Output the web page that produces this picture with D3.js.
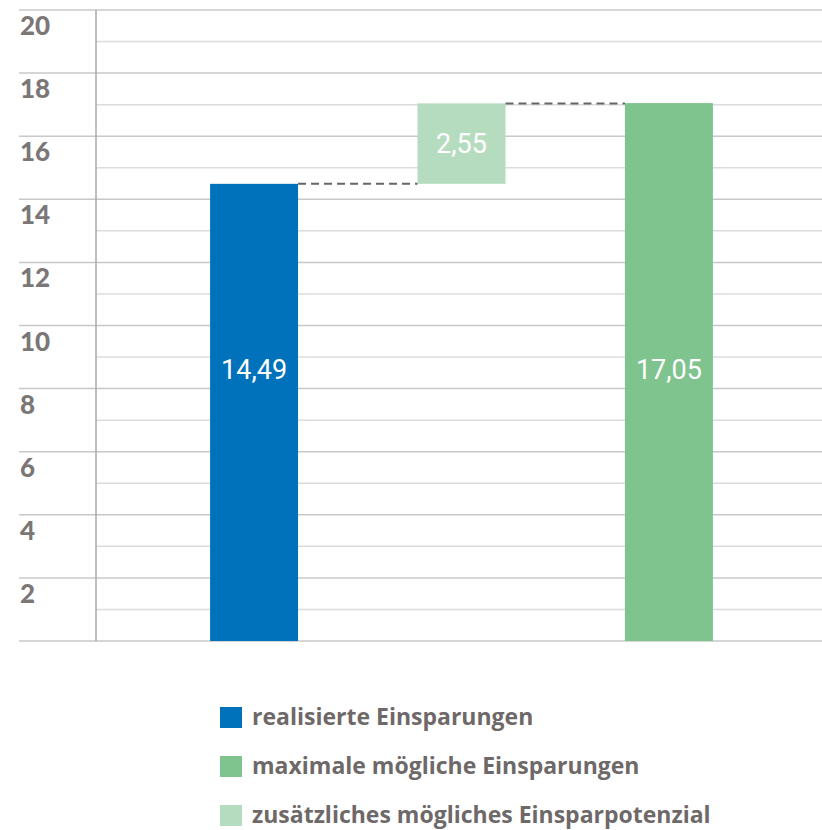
<!DOCTYPE html>
<html><head><meta charset="utf-8">
<script src="https://cdn.jsdelivr.net/npm/d3@7"></script>
<style>html,body{margin:0;padding:0;background:#fff;}svg{display:block;}</style>
</head><body>
<svg id="c" width="822" height="830"></svg>
<script>
const categories = ["realisierte Einsparungen", "zusätzliches mögliches Einsparpotenzial", "maximale mögliche Einsparungen"];
const barBase = [0, 14.49, 0];
const barValues = [14.49, 2.55, 17.05];
const barLabels = ["14,49", "2,55", "17,05"];
const colors = ["#0071bb", "#b6dcbf", "#7fc38f"];
const yTicks = [2, 4, 6, 8, 10, 12, 14, 16, 18, 20];
const minorTicks = [1, 3, 5, 7, 9, 11, 13, 15, 17, 19];
const legendItems = ["realisierte Einsparungen", "maximale mögliche Einsparungen", "zusätzliches mögliches Einsparpotenzial"];
const legendColors = ["#0071bb", "#7fc38f", "#b6dcbf"];

const svg = d3.select("#c");
const y = d3.scaleLinear().domain([0, 20]).range([641, 10]);
const x = d3.scaleBand().domain(categories).range([96, 827]).paddingInner(0.576).paddingOuter(0.55);

// minor gridlines
svg.append("g").selectAll("line").data(minorTicks).join("line")
  .attr("x1", 96).attr("x2", 822).attr("y1", d => y(d)).attr("y2", d => y(d))
  .attr("stroke", "#dcdcdc").attr("stroke-width", 1.5);
// major gridlines (incl. zero)
svg.append("g").selectAll("line").data([0].concat(yTicks)).join("line")
  .attr("x1", 19).attr("x2", 822).attr("y1", d => y(d)).attr("y2", d => y(d))
  .attr("stroke", "#c8c8c8").attr("stroke-width", 1.5);
// axis vertical line
svg.append("line").attr("x1", 96).attr("x2", 96).attr("y1", y(20)).attr("y2", y(0))
  .attr("stroke", "#a8a8a8").attr("stroke-width", 1.5);
// tick labels
svg.append("g").selectAll("text").data(yTicks).join("text")
  .attr("x", 20).attr("y", d => y(d) + 25)
  .attr("font-family", "Lato, 'Open Sans', sans-serif").attr("font-weight", 900)
  .attr("font-size", 26).attr("fill", "#7b7777").text(d => d);

// bars
svg.append("g").selectAll("rect").data(categories).join("rect")
  .attr("x", d => x(d)).attr("width", x.bandwidth())
  .attr("y", (d, i) => y(barBase[i] + barValues[i]))
  .attr("height", (d, i) => y(barBase[i]) - y(barBase[i] + barValues[i]))
  .attr("fill", (d, i) => colors[i]);

// dashed connectors
const conn = [
  {x1: x(categories[0]) + x.bandwidth(), x2: x(categories[1]), v: barValues[0]},
  {x1: x(categories[1]) + x.bandwidth(), x2: x(categories[2]), v: barBase[1] + barValues[1]}
];
svg.append("g").selectAll("line").data(conn).join("line")
  .attr("x1", d => d.x1).attr("x2", d => d.x2).attr("y1", d => y(d.v)).attr("y2", d => y(d.v))
  .attr("stroke", "#666").attr("stroke-width", 2).attr("stroke-dasharray", "8,5");

// value labels
svg.append("g").selectAll("text").data(categories).join("text")
  .attr("x", d => x(d) + x.bandwidth() / 2)
  .attr("y", (d, i) => i === 1 ? y(barBase[i] + barValues[i] / 2) : y(8.6))
  .attr("text-anchor", "middle").attr("dominant-baseline", "central")
  .attr("font-family", "Roboto, sans-serif").attr("font-size", 27).attr("fill", "#fff")
  .text((d, i) => barLabels[i]);

// legend
const lg = svg.append("g").selectAll("g").data(legendItems).join("g")
  .attr("transform", (d, i) => `translate(220, ${707 + i * 49})`);
lg.append("rect").attr("width", 22).attr("height", 21).attr("fill", (d, i) => legendColors[i]);
lg.append("text").attr("x", 32).attr("y", 18)
  .attr("font-family", "'Open Sans', sans-serif").attr("font-weight", "bold")
  .attr("font-size", 23).attr("fill", "#6e6968").text(d => d);
</script>
</body></html>
